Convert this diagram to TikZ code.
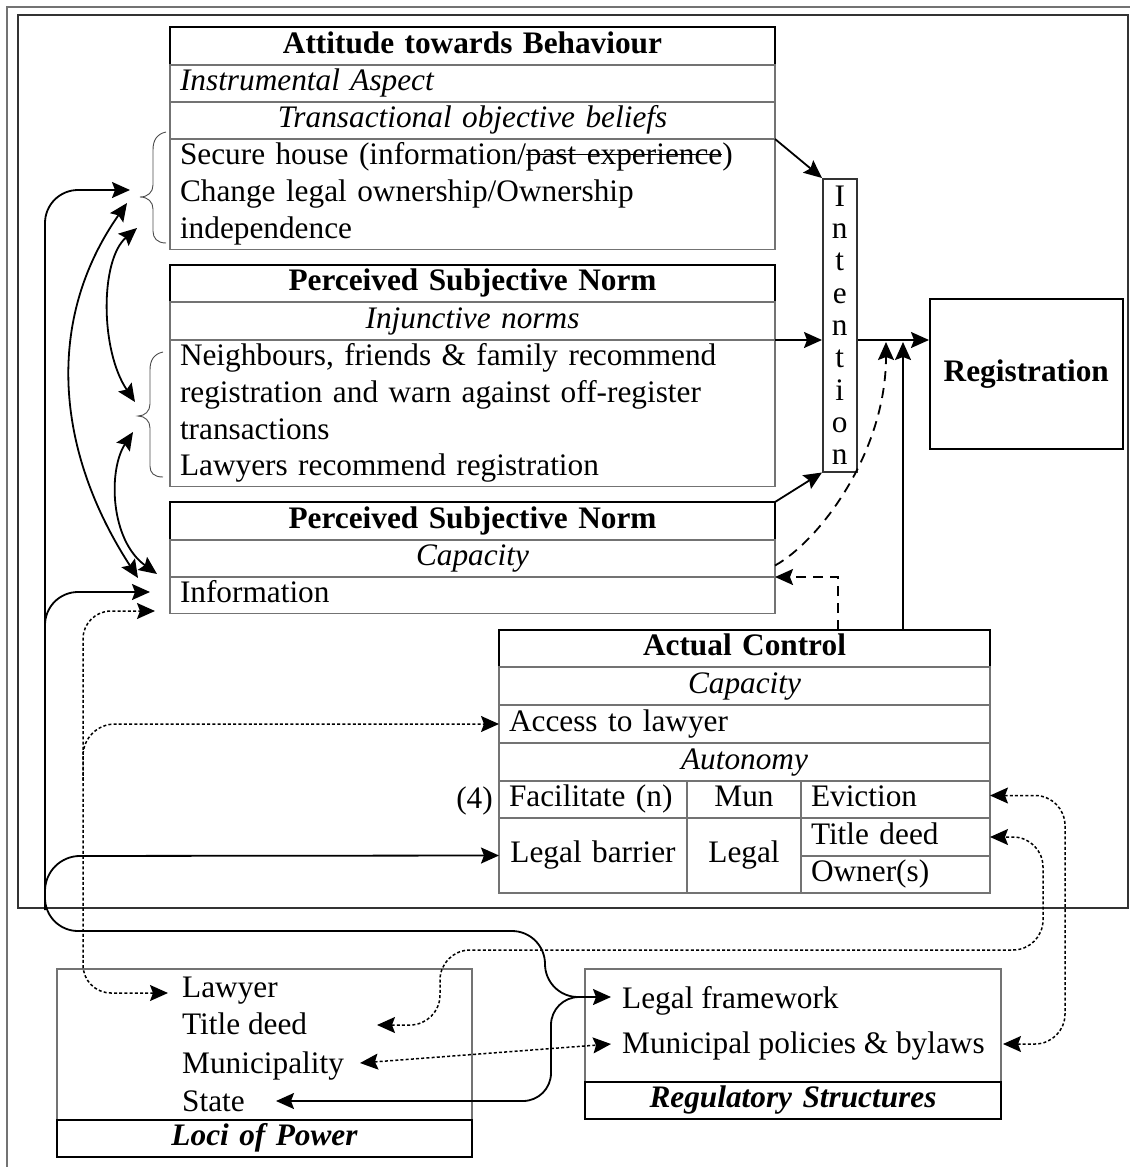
\documentclass[tikz,border=0pt]{standalone}
\usepackage{fontspec}
\setmainfont{Liberation Serif}
\usetikzlibrary{arrows.meta,calc}
\definecolor{tgray}{gray}{0.45}
\newcommand\fsz{\fontsize{31.3}{36.7}\selectfont}
\newcommand\strk[1]{\setbox0\hbox{#1}\rlap{\rule[0.3em]{\wd0}{1.2pt}}\box0}
\begin{document}
\begin{tikzpicture}[x=1pt,y=-1pt,
  every node/.style={font=\fsz},
  cell/.style={draw=tgray, line width=1.1pt, anchor=north west, inner xsep=10pt, inner ysep=0pt, outer sep=0pt},
  headcell/.style={cell, draw=black, line width=2pt, font=\fsz\bfseries, align=center},
  itc/.style={font=\fsz\itshape},
  link/.style={line width=1.8pt},
  dott/.style={line width=1.5pt, dash pattern=on 3pt off 2.2pt},
  dashtwo/.style={dash pattern=on 10pt off 7pt},
  >={Stealth[length=18pt,width=16pt,inset=3pt]},
  item/.style={anchor=base west, inner sep=0pt}
]
\useasboundingbox (0,0) rectangle (1130,1167);

% frames
\draw[tgray, line width=1.2pt] (7,1167) -- (7,7) -- (1130,7);
\draw[black!80, line width=1.3pt] (18,15) rectangle (1128,908);

% Attitude table
\node[headcell, minimum height=38pt, text width=585pt] (att-t) at (170,27) {\strut Attitude towards Behaviour};
\node[cell, itc, minimum height=37pt, text width=585pt, align=left] (att-i) at (170,65) {\strut Instrumental Aspect};
\node[cell, itc, minimum height=37pt, text width=585pt, align=center] (att-o) at (170,102) {\strut Transactional objective beliefs};
\node[cell, minimum height=110pt, text width=585pt, align=left] (att-c) at (170,139) {\strut Secure house (information/\strk{past experience})\\Change legal ownership/Ownership\\independence\strut};

% Perceived Subjective Norm 1
\node[headcell, minimum height=37pt, text width=585pt] (psn1-t) at (170,265) {\strut Perceived Subjective Norm};
\node[cell, itc, minimum height=38pt, text width=585pt, align=center] (psn1-i) at (170,302) {\strut Injunctive norms};
\node[cell, minimum height=146pt, text width=585pt, align=left] (psn1-c) at (170,340) {\strut Neighbours, friends \& family recommend\\registration and warn against off-register\\transactions\\Lawyers recommend registration\strut};

% Perceived Subjective Norm 2
\node[headcell, minimum height=38pt, text width=585pt] (psn2-t) at (170,502) {\strut Perceived Subjective Norm};
\node[cell, itc, minimum height=37pt, text width=585pt, align=center] (psn2-c) at (170,540) {\strut Capacity};
\node[cell, minimum height=36pt, text width=585pt, align=left] (psn2-i) at (170,577) {\strut Information};

% Intention and Registration
\node[draw=black!80, line width=1.5pt, minimum width=34pt, minimum height=293pt, inner sep=0pt, anchor=north west, align=center, font=\fontsize{31.3}{32.3}\selectfont] (int) at (822,178) {I\\n\\t\\e\\n\\t\\i\\o\\n};
\node[draw=black, line width=1.6pt, minimum width=193pt, minimum height=150pt, anchor=north west, font=\fsz\bfseries] (reg) at (929,298) {Registration};

% Actual Control
\node[headcell, minimum height=37pt, text width=471pt] (ac-t) at (499,630) {\strut Actual Control};
\node[cell, itc, minimum height=38pt, text width=471pt, align=center] (ac-c) at (499,667) {\strut Capacity};
\node[cell, minimum height=38pt, text width=471pt, align=left] (ac-a) at (499,705) {\strut Access to lawyer};
\node[cell, itc, minimum height=38pt, text width=471pt, align=center] (ac-u) at (499,743) {\strut Autonomy};
\node[cell, minimum height=37pt, text width=168pt, align=left] (ac-f) at (499,781) {\strut Facilitate (n)};
\node[cell, minimum height=37pt, text width=94pt, align=center] (ac-m) at (687,781) {\strut Mun};
\node[cell, minimum height=37pt, text width=169pt, align=left] (ac-e) at (801,781) {\strut Eviction};
\node[cell, minimum height=75pt, text width=168pt, align=center] (ac-lb) at (499,818) {\strut Legal barrier};
\node[cell, minimum height=75pt, text width=94pt, align=center] (ac-l) at (687,818) {\strut Legal};
\node[cell, minimum height=38pt, text width=169pt, align=left] (ac-td) at (801,818) {\strut Title deed};
\node[cell, minimum height=37pt, text width=169pt, align=left] (ac-o) at (801,856) {\strut Owner(s)};
\node[anchor=base east, inner sep=0pt] (four) at (493,808) {(4)};

% Loci of Power
\node[cell, minimum width=415pt, minimum height=151pt] (loci) at (57,969) {};
\node[headcell, minimum height=37pt, text width=395pt, font=\fsz\bfseries\itshape] (loci-t) at (57,1120) {\strut Loci of Power};
\node[item] (lawyer) at (182,997) {Lawyer};
\node[item] (tdeed) at (182,1034) {Title deed};
\node[item] (muni) at (182,1073) {Municipality};
\node[item] (state) at (182,1111) {State};

% Regulatory Structures
\node[cell, minimum width=416pt, minimum height=113pt] (rs) at (585,969) {};
\node[headcell, minimum height=37pt, text width=396pt, font=\fsz\bfseries\itshape] (rs-t) at (585,1082) {\strut Regulatory Structures};
\node[item] (lf) at (622,1008) {Legal framework};
\node[item] (mp) at (622,1053) {Municipal policies \& bylaws};

% braces
\draw[black!70, line width=0.9pt] (166,132) .. controls (157,134) and (153,140) .. (153,150) -- (153,185) .. controls (153,192) and (148,197) .. (140,197) .. controls (148,197) and (153,202) .. (153,209) -- (153,231) .. controls (153,238) and (157,243) .. (166,243);
\draw[black!70, line width=0.9pt] (163,352) .. controls (154,354) and (150,360) .. (150,370) -- (150,404) .. controls (150,411) and (145,416) .. (138,416) .. controls (145,416) and (150,421) .. (150,428) -- (150,466) .. controls (150,473) and (154,477) .. (163,477);

% free ends
\coordinate (b1a) at (130,190);
\coordinate (b1b) at (127,203);
\coordinate (b1c) at (137,228);
\coordinate (b2a) at (135,402);
\coordinate (b2b) at (133,432);
\coordinate (i1) at (138,578);
\coordinate (i2) at (157,574);
\coordinate (i3) at (150,592);
\coordinate (i4) at (155,611);
\coordinate (lawT) at (168,993);
\coordinate (tdT) at (377,1025);
\coordinate (muT) at (360,1063);
\coordinate (stT) at (276,1101);
\coordinate (lfT) at (611,997);
\coordinate (mpT) at (611,1044);
\coordinate (mpR) at (1003,1044);
\coordinate (jn) at (578,997);
\coordinate (dT) at (886,342);

% connectors to Intention and Registration
\draw[link,->] (att-c.north east) -- (int.north west);
\draw[link,->] (psn1-i.south east) -- (psn1-i.south east -| int.west);
\draw[link,->] (psn2-t.north east) -- (int.south west);
\draw[link,->] (psn1-i.south east -| int.east) -- (psn1-i.south east -| reg.west);
\draw[link,->] ($(ac-t.north west)+(404,0)$) -- ++(0,-288);
\draw[link,->,dashtwo] ([yshift=-7pt]psn2-c.east) .. controls +(45,-25) and +(0,110) .. (dT);
\draw[link,->,dashtwo] ($(ac-t.north west)+(339,0)$) |- (psn2-c.south east);

% solid trunk
\draw[link,<->,rounded corners=28pt] (stT) -- (551,1101) -- (551,997) -- (lfT);
\draw[link,->,rounded corners=33pt] (jn) -- (545,997) -- (545,931) -- (45,931) -- (45,190) -- (b1a);
\draw[link,->,rounded corners=33pt] (45,650) -- (45,592) -- (i3);
\draw[link,->,rounded corners=35pt] (45,910) -- (45,856) -- (ac-lb.west);

% brace arcs
\draw[link,<->] (b1b) .. controls (45,320) and (55,450) .. (i1);
\draw[link,<->] (b1c) .. controls (100,260) and (100,350) .. (b2a);
\draw[link,<->] (b2b) .. controls (108,470) and (110,540) .. (i2);

% dotted links
\draw[dott,<->,rounded corners=28pt] (lawT) -- (83,993) -- (83,611) -- (i4);
\draw[dott,->,rounded corners=32pt] (83,780) -- (83,724) -- (ac-a.west);
\draw[dott,<->,rounded corners=30pt] (tdT) -- (440,1025) -- (440,950) -- (1043,950) -- (1043,837) -- (ac-td.east);
\draw[dott,<->,rounded corners=30pt] ([yshift=4pt]ac-e.east) -- (1065,795.5) -- (1065,1044) -- (mpR);
\draw[dott,<->] (muT) -- (mpT);
\end{tikzpicture}
\end{document}
